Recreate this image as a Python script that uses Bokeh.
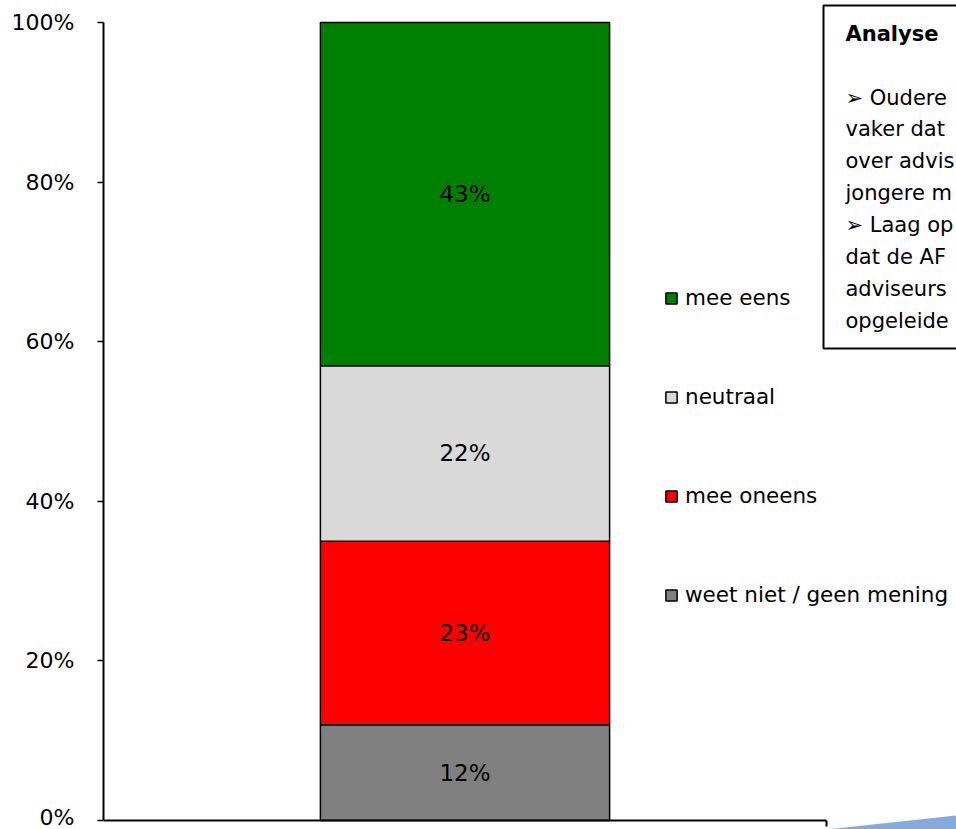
from bokeh.plotting import figure
from bokeh.models import (Range1d, FixedTicker, PrintfTickFormatter, Legend, LegendItem,
                          ColumnDataSource, BoxAnnotation, Label)
from bokeh.core.properties import value
from bokeh.embed import file_html
from bokeh.resources import INLINE

# ---- data ----
categories = ["weet niet / geen mening", "mee oneens", "neutraal", "mee eens"]
values = [12, 23, 22, 43]
colors = ["#808080", "#FF0000", "#D9D9D9", "#008000"]
y_ticks = [0, 20, 40, 60, 80, 100]
box_title = "Analyse"
box_lines = ["\u27a2 Oudere", "vaker dat", "over advis", "jongere m",
             "\u27a2 Laag op", "dat de AF", "adviseurs", "opgeleide"]

FONT = "DejaVu Sans"

# pixel geometry helpers (screen -> data); only used for non-data annotations
W, H = 956, 829
PX_Y0, PX_Y100 = 820.0, 22.0
SY = (PX_Y0 - PX_Y100) / 100.0
AX_X0, AX_X1 = 103.0, 826.0
SX = AX_X1 - AX_X0

def ydat(py):
    return (PX_Y0 - py) / SY

def xdat(px):
    return (px - AX_X0) / SX

p = figure(width=W, height=H,
           x_range=Range1d(0, xdat(W)),
           y_range=Range1d(ydat(H), ydat(0)),
           x_axis_location=None, y_axis_location="left",
           output_backend="svg", toolbar_location=None,
           min_border_left=int(AX_X0), min_border_right=0, min_border_top=0, min_border_bottom=0,
           outline_line_color=None, background_fill_color="white", border_fill_color="white")
p.grid.visible = False

# stacked bar
data = {"x": [0.5]}
for c, v in zip(categories, values):
    data[c] = [v]
src = ColumnDataSource(data)
renderers = p.vbar_stack(categories, x="x", width=0.4, source=src, color=colors,
                         line_color="black", line_width=1.5)
for r, col in zip(renderers, colors):
    r.glyph.fill_color = col
    r.glyph.line_color = "black"

# value labels
cum = 0
mids = []
for v in values:
    mids.append(cum + v / 2.0)
    cum += v
lab_src = ColumnDataSource(dict(x=[0.5] * len(values), y=mids, t=[f"{v}%" for v in values]))
p.text(x="x", y="y", text="t", source=lab_src, text_align="center", text_baseline="middle",
       text_font=value(FONT), text_font_size="23px", text_color="black")

# y axis
ax = p.yaxis[0]
ax.ticker = FixedTicker(ticks=y_ticks)
ax.formatter = PrintfTickFormatter(format="%d%%")
ax.bounds = (0, 100)
ax.axis_line_width = 2
ax.axis_line_color = "black"
ax.major_tick_line_width = 1.5
ax.major_tick_line_color = "black"
ax.major_tick_out = 6
ax.major_tick_in = 0
ax.minor_tick_out = 0
ax.minor_tick_in = 0
ax.major_label_standoff = 23
ax.major_label_text_font = FONT
ax.major_label_text_font_size = "22px"
ax.major_label_text_color = "black"

# x axis line with end tick
p.segment(x0=[0, 1], y0=[0, 0], x1=[1, 1], y1=[0, -6 / SY], line_color="black", line_width=2)

# decorative blue swoosh (bottom right)
p.patch(x=[xdat(826), xdat(W), xdat(W)], y=[ydat(H), ydat(815), ydat(H)],
        fill_color="#5b8fd0", fill_alpha=0.75, line_alpha=0)

# legend
items = [LegendItem(label=c, renderers=[r]) for c, r in zip(categories, renderers)][::-1]
leg = Legend(items=items, location=(664 - AX_X0, 222), orientation="vertical",
             glyph_width=14, glyph_height=14, label_height=14, label_standoff=7,
             spacing=74, padding=0, margin=0, border_line_alpha=0, background_fill_alpha=0,
             label_text_font=FONT, label_text_font_size="21.5px", label_text_color="black")
p.add_layout(leg, "center")

# analysis text box (cut off at the right edge)
p.add_layout(BoxAnnotation(left=xdat(823), right=xdat(W + 40), bottom=ydat(348),
                           top=ydat(5), fill_alpha=0, line_color="black", line_alpha=1.0,
                           line_width=2))
p.add_layout(Label(x=xdat(845), y=ydat(33), text=box_title, text_font=FONT,
                   text_font_style="bold", text_font_size="21px", text_baseline="middle",
                   text_color="black"))
line_step = 31.9 / SY
box_src = ColumnDataSource(dict(x=[xdat(845)] * len(box_lines),
                                y=[ydat(97) - i * line_step for i in range(len(box_lines))],
                                t=box_lines))
p.text(x="x", y="y", text="t", source=box_src, text_baseline="middle", text_align="left",
       text_font=value(FONT), text_font_size="21px", text_color="black")

open("out.html", "w").write(file_html(p, INLINE))
